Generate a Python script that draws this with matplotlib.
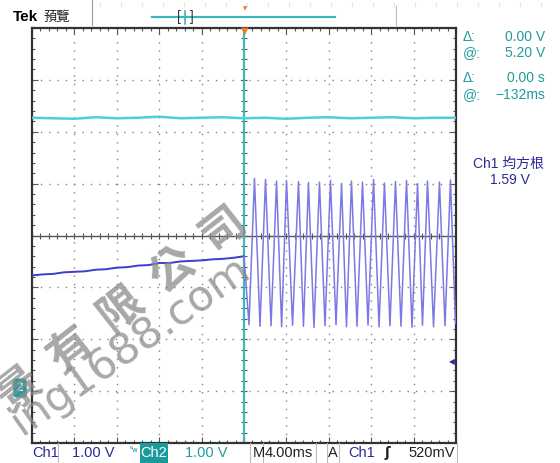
import matplotlib
matplotlib.use('Agg')
import matplotlib.pyplot as plt
import numpy as np
from matplotlib.lines import Line2D
from matplotlib.patches import Rectangle

# --- readout values ---------------------------------------------------
ch1_scale = '1.00 V'
ch2_scale = '1.00 V'
time_scale = '4.00ms'
trig_level = '520mV'
cursor_rows = [('Δ:', '0.00 V'), ('@:', '5.20 V'), ('Δ:', '0.00 s'), ('@:', '−132ms')]
rms_label = 'Ch1 均方根'
rms_value = '1.59 V'

# --- traces (time in ms, amplitude in divisions) ----------------------
ch2_t = [-20, -18, -16, -14, -12, -10, -8, -6, -4, -2, 0, 2, 4, 6, 8, 10, 12, 14, 16, 18, 20]
ch2_v = [2.27, 2.26, 2.25, 2.28, 2.26, 2.27, 2.29, 2.26, 2.27, 2.28, 2.26, 2.27, 2.25, 2.27, 2.28, 2.26, 2.27, 2.28, 2.26, 2.27, 2.27]

pre_t = [-20, -19, -18, -17, -16, -15, -14, -13, -12, -11, -10, -9, -8, -7, -6, -5, -4, -3, -2, -1, 0]
pre_v = [-0.77, -0.75, -0.74, -0.71, -0.70, -0.69, -0.66, -0.65, -0.62, -0.61, -0.58, -0.57, -0.53, -0.53, -0.50, -0.49, -0.48, -0.46, -0.45, -0.43, -0.40]

peak_t = [0.99, 2.03, 3.07, 4.01, 5.14, 6.08, 7.12, 8.16, 9.20, 10.14, 11.18, 12.22, 13.25, 14.29, 15.33, 16.37, 17.31, 18.44, 19.48]
peak_v = [1.10, 1.08, 1.05, 1.06, 1.04, 1.02, 1.03, 1.06, 1.00, 1.05, 1.03, 1.08, 1.01, 1.04, 1.06, 1.00, 1.05, 1.03, 1.07]
trough_t = [0.47, 1.51, 2.55, 3.55, 4.58, 5.61, 6.60, 7.64, 8.68, 9.67, 10.66, 11.70, 12.74, 13.77, 14.81, 15.85, 16.84, 17.88, 18.96, 19.95]
trough_v = [-1.72, -1.75, -1.74, -1.76, -1.73, -1.75, -1.77, -1.74, -1.72, -1.76, -1.75, -1.73, -1.76, -1.74, -1.75, -1.77, -1.73, -1.76, -1.74, -1.70]

TEAL = '#1e9c9c'
NAVY = '#2a2a96'
CYAN = '#4fd0d8'
BLUE_PRE = '#3c3cd2'
BLUE_SIN = '#7a7ae6'
FONT = ['Liberation Sans', 'DejaVu Sans', 'Noto Sans CJK TC']
CJK = ['Noto Sans CJK TC', 'DejaVu Sans']

W, H = 560, 463
fig = plt.figure(figsize=(W / 100, H / 100), dpi=100)

def fx(px):
    return px / W

def fy(py):
    return 1 - py / H

ax = fig.add_axes([fx(32), fy(443), fx(456) - fx(32), fy(28) - fy(443)])
ax.set_xlim(-20, 20)
ax.set_ylim(-4, 4)

# graticule
xmaj = np.arange(-20, 21, 4)
ymaj = np.arange(-4, 5, 1)
ax.set_xticks(xmaj)
ax.set_yticks(ymaj)
ax.set_xticks(np.arange(-20, 20.1, 0.8), minor=True)
ax.set_yticks(np.arange(-4, 4.01, 0.2), minor=True)
ax.tick_params(which='both', direction='in', top=True, right=True,
               labelbottom=False, labelleft=False, color='#555555', width=0.8)
ax.tick_params(which='major', length=4)
ax.tick_params(which='minor', length=2.5)
for sp in ax.spines.values():
    sp.set_linewidth(1.6)
    sp.set_color('#333333')

for x in xmaj[1:-1]:
    if x != 0:
        ax.axvline(x, color='#808080', lw=1.0, ls=(0, (1, 5)), zorder=1)
for y in ymaj[1:-1]:
    if y != 0:
        ax.axhline(y, color='#808080', lw=1.0, ls=(0, (1, 5)), zorder=1)

ax.axhline(0, color='#555555', lw=1.0, zorder=1)
ax.plot(np.arange(-20, 20.1, 0.8), np.zeros(51), ls='none', marker='|',
        ms=5, color='#555555', mew=0.8, zorder=1)
ax.plot(np.zeros(41), np.arange(-4, 4.01, 0.2), ls='none', marker='_',
        ms=5, color='#555555', mew=0.8, zorder=1)

# cursor line
ax.axvline(0, color='#3fb8bc', lw=1.6, zorder=2)

# channel 2
ax.plot(ch2_t, ch2_v, color=CYAN, lw=1.8, zorder=3)

# channel 1
ax.plot(pre_t, pre_v, color=BLUE_PRE, lw=1.4, zorder=3)
wave_t = [pre_t[-1]]
wave_v = [pre_v[-1]]
for i in range(len(trough_t)):
    wave_t.append(trough_t[i])
    wave_v.append(trough_v[i])
    if i < len(peak_t):
        wave_t.append(peak_t[i])
        wave_v.append(peak_v[i])
ax.plot(wave_t, wave_v, color=BLUE_SIN, lw=1.1, zorder=3, solid_joinstyle='round')

# trigger markers
fig.text(fx(245), fy(31), '▼', color='#ee7722', fontsize=7, ha='center', va='center',
         family='DejaVu Sans')
fig.text(fx(452), fy(362), '◀', color=NAVY, fontsize=5.5, ha='center', va='center',
         family='DejaVu Sans')
fig.text(fx(20), fy(388), '2', color='white', fontsize=8.5, ha='center', va='center',
         family=FONT, fontweight='bold',
         bbox=dict(boxstyle='round,pad=0.3', fc='#1aa0a0', ec='none'))

# top bar
fig.text(fx(13), fy(17), 'Tek', fontsize=11, fontweight='bold', family=FONT, va='center')
fig.text(fx(43), fy(17), '預覽', fontsize=9.5, family=CJK, va='center', color='#222222')
fig.add_artist(Line2D([fx(92), fx(92)], [fy(0), fy(25)], color='#999999', lw=0.8))
fig.add_artist(Line2D([fx(396), fx(396)], [fy(6), fy(25)], color='#bbbbbb', lw=0.8))
fig.add_artist(Line2D([fx(152), fx(335)], [fy(17), fy(17)], color='#3cb8bc', lw=1.6))
fig.text(fx(179), fy(17), '[', fontsize=10, family=FONT, va='center', ha='center', color='#333333')
fig.text(fx(192), fy(17), ']', fontsize=10, family=FONT, va='center', ha='center', color='#333333')
fig.add_artist(Line2D([fx(185), fx(185)], [fy(11), fy(24)], color='#3cb8bc', lw=1.2))
fig.text(fx(245), fy(9), '▼', color='#ee7722', fontsize=4, ha='center', va='center',
         family='DejaVu Sans')
for px in range(100, 556, 21):
    fig.add_artist(Line2D([fx(px), fx(px)], [fy(3), fy(6)], color='#e2e2e2', lw=0.8))

# right readouts
ry = [37, 53, 78, 95]
for (lab, val), y in zip(cursor_rows, ry):
    fig.text(fx(463), fy(y), lab, color=TEAL, fontsize=10, family=FONT, va='center')
    fig.text(fx(545), fy(y), val, color=TEAL, fontsize=10, family=FONT, va='center', ha='right')
fig.text(fx(508), fy(164), rms_label, color=NAVY, fontsize=10, family=FONT + CJK,
         va='center', ha='center')
fig.text(fx(510), fy(180), rms_value, color=NAVY, fontsize=10, family=FONT,
         va='center', ha='center')

# bottom bar
by = 453
for px in [58, 250, 263, 316, 327, 339, 457]:
    fig.add_artist(Line2D([fx(px), fx(px)], [fy(443), fy(463)], color='#bbbbbb', lw=0.8))
fig.add_artist(Rectangle((fx(140), fy(463)), fx(168) - fx(140), fy(443) - fy(463),
                         transform=fig.transFigure, fc='#1a9a9a', ec='none'))
fig.text(fx(32), fy(by), 'Ch1', color=NAVY, fontsize=10.5, family=FONT, va='center')
fig.text(fx(72), fy(by), ch1_scale, color=NAVY, fontsize=10.5, family=FONT, va='center')
fig.text(fx(130), fy(by - 3), 'ᴮw', color=TEAL, fontsize=5, family='DejaVu Sans', va='center')
fig.text(fx(154), fy(by), 'Ch2', color='white', fontsize=10.5, family=FONT, va='center', ha='center')
fig.text(fx(185), fy(by), ch2_scale, color=TEAL, fontsize=10.5, family=FONT, va='center')
fig.text(fx(253), fy(by), 'M', color='#222222', fontsize=10.5, family=FONT, va='center')
fig.text(fx(265), fy(by), time_scale, color='#222222', fontsize=10.5, family=FONT, va='center')
fig.text(fx(333), fy(by), 'A', color='#222222', fontsize=10.5, family=FONT, va='center', ha='center')
fig.text(fx(348), fy(by), 'Ch1', color=NAVY, fontsize=10.5, family=FONT, va='center')
fig.text(fx(387), fy(by), 'ʃ', color='#222222', fontsize=10, family='DejaVu Sans',
         va='center', ha='center', fontweight='bold')
fig.text(fx(455), fy(by), trig_level, color='#222222', fontsize=10.5, family=FONT,
         va='center', ha='right')

# watermark
fig.text(fx(122), fy(310), '景  有  限  公  司', color='#8a8a8a', alpha=0.75, fontsize=32,
         family=CJK, fontweight='bold', rotation=38, ha='center', va='center', zorder=10)
fig.text(fx(130), fy(345), 'ing1688.com', color='#8a8a8a', alpha=0.75, fontsize=31,
         family='DejaVu Sans', rotation=35, ha='center', va='center', zorder=10)

fig.savefig('out.png', dpi=100)
